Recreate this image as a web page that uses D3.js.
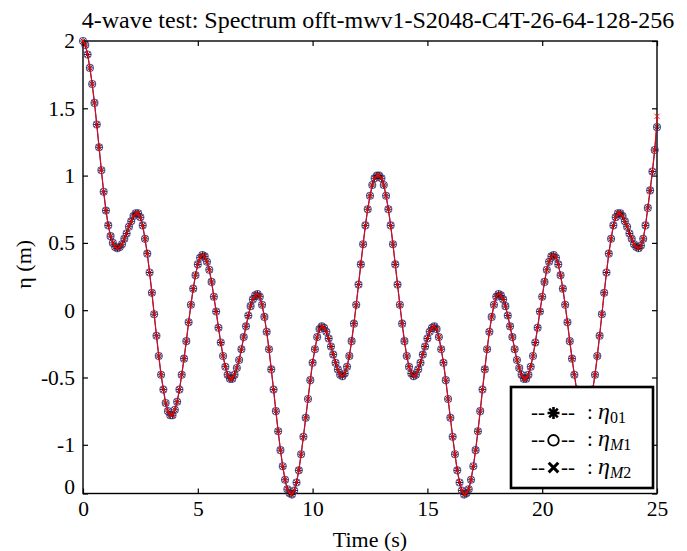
<html><head>
<script src="https://d3js.org/d3.v7.min.js"></script>
<style>
  body { margin: 0; background: #fff; }
</style>
</head>
<body>
<svg id="graph" width="687" height="551" style="background:#fff"></svg>
<script>
const serif = "'Liberation Serif', 'Times New Roman', Times, serif";

// sample spacing of the record (s)
const t0 = 0;
const dt = 0.1;

// eta01, one value every 0.1 s from 0 to 25 s
const eta01 = [
  2.00, 1.97, 1.90, 1.80, 1.68, 1.54, 1.38, 1.21, 1.04, 0.88,
  0.74, 0.63, 0.55, 0.50, 0.47, 0.46, 0.47, 0.49, 0.53, 0.57,
  0.62, 0.66, 0.70, 0.72, 0.72, 0.69, 0.63, 0.53, 0.42, 0.28,
  0.13, -0.03, -0.19, -0.34, -0.48, -0.59, -0.69, -0.75, -0.78, -0.78,
  -0.74, -0.68, -0.59, -0.48, -0.36, -0.23, -0.09, 0.04, 0.16, 0.26,
  0.34, 0.39, 0.41, 0.40, 0.36, 0.30, 0.21, 0.10, -0.01, -0.13,
  -0.24, -0.34, -0.42, -0.48, -0.51, -0.51, -0.48, -0.43, -0.37, -0.29,
  -0.20, -0.12, -0.04, 0.03, 0.08, 0.11, 0.12, 0.10, 0.04, -0.05,
  -0.16, -0.29, -0.44, -0.59, -0.75, -0.90, -1.04, -1.16, -1.26, -1.33,
  -1.36, -1.37, -1.34, -1.28, -1.19, -1.07, -0.94, -0.80, -0.66, -0.52,
  -0.39, -0.29, -0.20, -0.14, -0.12, -0.13, -0.16, -0.21, -0.27, -0.33,
  -0.39, -0.44, -0.48, -0.49, -0.47, -0.42, -0.34, -0.23, -0.10, 0.04,
  0.19, 0.34, 0.49, 0.63, 0.75, 0.85, 0.93, 0.98, 1.00, 1.00,
  0.98, 0.93, 0.85, 0.75, 0.63, 0.49, 0.34, 0.19, 0.04, -0.10,
  -0.23, -0.34, -0.42, -0.47, -0.49, -0.48, -0.44, -0.39, -0.33, -0.27,
  -0.21, -0.16, -0.13, -0.12, -0.14, -0.20, -0.29, -0.39, -0.52, -0.66,
  -0.80, -0.94, -1.07, -1.19, -1.28, -1.34, -1.37, -1.36, -1.33, -1.26,
  -1.16, -1.04, -0.90, -0.75, -0.59, -0.44, -0.29, -0.16, -0.05, 0.04,
  0.10, 0.12, 0.11, 0.08, 0.03, -0.04, -0.12, -0.20, -0.29, -0.37,
  -0.43, -0.48, -0.51, -0.51, -0.48, -0.42, -0.34, -0.24, -0.13, -0.01,
  0.10, 0.21, 0.30, 0.36, 0.40, 0.41, 0.39, 0.34, 0.26, 0.16,
  0.04, -0.09, -0.23, -0.36, -0.48, -0.59, -0.68, -0.74, -0.78, -0.78,
  -0.75, -0.69, -0.59, -0.48, -0.34, -0.19, -0.03, 0.13, 0.28, 0.42,
  0.53, 0.63, 0.69, 0.72, 0.72, 0.70, 0.66, 0.62, 0.57, 0.53,
  0.49, 0.47, 0.46, 0.48, 0.53, 0.63, 0.76, 0.89, 1.03, 1.19,
  1.36
];
// the two model runs lie on top of eta01, only the last red cross sits higher
const etaM1 = eta01.slice();
const etaM2 = eta01.slice(0, -1).concat([1.44]);

const xTicks = [0, 5, 10, 15, 20, 25];
const yTickValues = [2, 1.5, 1, 0.5, 0, -0.5, -1, -1.362];
const yTickLabels = ["2", "1.5", "1", "0.5", "0", "-0.5", "-1", "0"];

const title = "4-wave test: Spectrum offt-mwv1-S2048-C4T-26-64-128-256";

const svg = d3.select("#graph");
const mLeft = 83, mRight = 657, mTop = 41, mBottom = 493.5;

const x = d3.scaleLinear().domain([0, 25]).range([mLeft, mRight]);
const y = d3.scaleLinear().domain([-1.362, 2]).range([mBottom, mTop]);
const tx = i => x(t0 + i * dt);

// axes, ticks pointing inwards
const gx = svg.append("g").attr("transform", `translate(0,${mBottom})`)
  .call(d3.axisBottom(x).tickValues(xTicks).tickSize(-5).tickPadding(7).tickFormat(d3.format("d")));
const gxTop = svg.append("g").attr("transform", `translate(0,${mTop})`)
  .call(d3.axisTop(x).tickValues(xTicks).tickSize(-5).tickFormat(""));
const gy = svg.append("g").attr("transform", `translate(${mLeft},0)`)
  .call(d3.axisLeft(y).tickValues(yTickValues).tickSize(-5).tickPadding(8).tickFormat((d, i) => yTickLabels[i]));
const gyRight = svg.append("g").attr("transform", `translate(${mRight},0)`)
  .call(d3.axisRight(y).tickValues(yTickValues).tickSize(-5).tickFormat(""));

[gx, gxTop, gy, gyRight].forEach(g => {
  g.select(".domain").remove();
  g.selectAll("line").attr("stroke", "#000").attr("stroke-width", 1.2);
  g.selectAll("text").attr("fill", "#000")
    .style("font-family", serif).style("font-size", "21.5px");
});
gy.selectAll(".tick").filter((d, i) => i === yTickValues.length - 1)
  .select("text").attr("dy", "-0.02em");

svg.append("rect")
  .attr("x", mLeft).attr("y", mTop)
  .attr("width", mRight - mLeft).attr("height", mBottom - mTop)
  .attr("fill", "none").attr("stroke", "#000").attr("stroke-width", 1.4);

// series
const line = d3.line().x((d, i) => tx(i)).y(d => y(d));

svg.append("path").datum(etaM1).attr("d", line)
  .attr("fill", "none").attr("stroke", "#1f2f9a").attr("stroke-width", 1.2);

svg.append("g").selectAll("circle").data(etaM1).join("circle")
  .attr("cx", (d, i) => tx(i)).attr("cy", d => y(d)).attr("r", 3.5)
  .attr("fill", "none").attr("stroke", "#2d3f9e").attr("stroke-opacity", 0.8).attr("stroke-width", 1.1);

const starPath = "M-3.5,0H3.5M0,-3.5V3.5M-2.5,-2.5L2.5,2.5M-2.5,2.5L2.5,-2.5";
svg.append("g").selectAll("path").data(eta01).join("path")
  .attr("transform", (d, i) => `translate(${tx(i)},${y(d)})`)
  .attr("d", starPath).attr("fill", "none").attr("stroke", "#111").attr("stroke-width", 0.9);

svg.append("path").datum(etaM2).attr("d", line)
  .attr("fill", "none").attr("stroke", "#ff0000").attr("stroke-width", 1);

const crossPath = "M-2.6,-2.6L2.6,2.6M-2.6,2.6L2.6,-2.6";
svg.append("g").selectAll("path").data(etaM2).join("path")
  .attr("transform", (d, i) => `translate(${tx(i)},${y(d)})`)
  .attr("d", crossPath).attr("fill", "none").attr("stroke", "#ff0000").attr("stroke-width", 0.9);

// labels
svg.append("text").attr("x", 378).attr("y", 28).attr("text-anchor", "middle")
  .style("font-family", serif).style("font-size", "24px").text(title);

svg.append("text").attr("x", (mLeft + mRight) / 2).attr("y", 547).attr("text-anchor", "middle")
  .style("font-family", serif).style("font-size", "22px").text("Time (s)");

svg.append("text").attr("transform", `translate(31,${(mTop + mBottom) / 2 - 3}) rotate(-90)`)
  .attr("text-anchor", "middle")
  .style("font-family", serif).style("font-size", "22px").text("η (m)");

// legend
const legend = svg.append("g");
legend.append("rect").attr("x", 511).attr("y", 387).attr("width", 142).attr("height", 101)
  .attr("fill", "#fff").attr("stroke", "#000").attr("stroke-width", 2.6);

const legendRows = [
  { mark: "star", sub: [["0", false], ["1", false]] },
  { mark: "circle", sub: [["M", true], ["1", false]] },
  { mark: "cross", sub: [["M", true], ["2", false]] }
];
legendRows.forEach((row, k) => {
  const cy = 413 + k * 27.3;
  const g = legend.append("g").style("font-family", serif);
  g.append("text").attr("x", 531).attr("y", cy + 6).style("font-size", "21px").text("--");
  g.append("text").attr("x", 561).attr("y", cy + 6).style("font-size", "21px").text("--");
  const m = g.append("g").attr("transform", `translate(553.5,${cy})`);
  if (row.mark === "star") {
    m.append("path").attr("d", "M-6,0H6M0,-6V6M-4.3,-4.3L4.3,4.3M-4.3,4.3L4.3,-4.3")
      .attr("stroke", "#000").attr("stroke-width", 2.6);
  } else if (row.mark === "circle") {
    m.append("circle").attr("r", 5.3).attr("fill", "none").attr("stroke", "#000").attr("stroke-width", 1.8);
  } else {
    m.append("path").attr("d", "M-4.8,-4.8L4.8,4.8M-4.8,4.8L4.8,-4.8")
      .attr("stroke", "#000").attr("stroke-width", 3);
  }
  const lab = g.append("text").attr("x", 587).attr("y", cy + 6).style("font-size", "21px");
  lab.append("tspan").text(": ");
  lab.append("tspan").attr("font-style", "italic").style("font-size", "24px").text("η");
  const s = lab.append("tspan").attr("dy", 4).style("font-size", "16px");
  row.sub.forEach(p => s.append("tspan").attr("font-style", p[1] ? "italic" : "normal").text(p[0]));
});
</script>
</body>
</html>
